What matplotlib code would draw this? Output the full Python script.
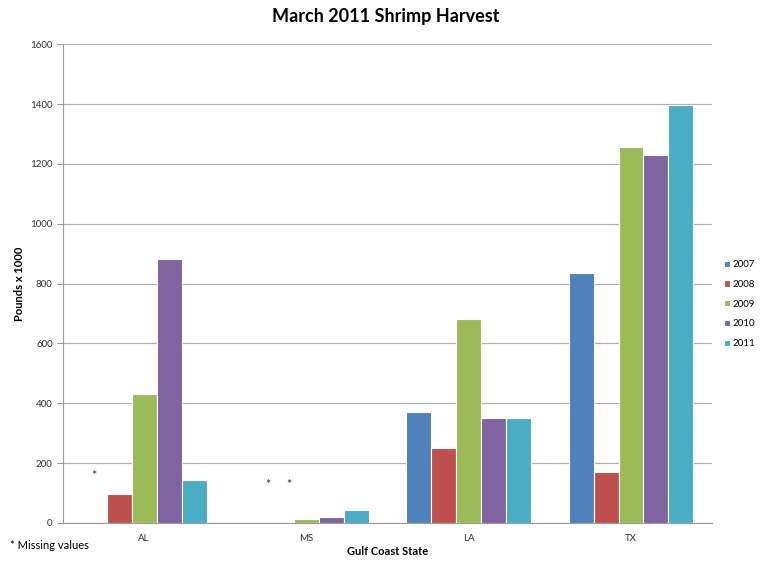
import numpy as np
import matplotlib.pyplot as plt

states = ["AL", "MS", "LA", "TX"]
years = ["2007", "2008", "2009", "2010", "2011"]
colors = ["#4f81bd", "#c0504d", "#9bbb59", "#8064a2", "#4bacc6"]

# pounds x 1000, None = missing value
harvest = {
    "2007": [None, None, 369, 836],
    "2008": [95, None, 249, 169],
    "2009": [430, 14, 682, 1256],
    "2010": [882, 20, 351, 1230],
    "2011": [142, 42, 352, 1398],
}

plt.rcParams['font.family'] = ['Lato', 'DejaVu Sans']

fig = plt.figure(figsize=(7.6, 5.61), dpi=100)
ax = fig.add_axes([0.083, 0.068, 0.854, 0.853])

x = np.arange(len(states))
width = 1 / 6.5
for i, yr in enumerate(years):
    vals = [v if v is not None else 0 for v in harvest[yr]]
    offs = (i - 2) * width
    ax.bar(x + offs, vals, width, color=colors[i], edgecolor="white",
           linewidth=0.8, label=yr, zorder=3)

# asterisks for missing values
ax.text(0 - 2 * width, 155, "*", ha="center", va="center", fontsize=9, color="#333333")
ax.text(1 - 1.55 * width, 125, "*", ha="center", va="center", fontsize=9, color="#333333")
ax.text(1 - 0.7 * width, 125, "*", ha="center", va="center", fontsize=9, color="#333333")

ax.set_xlim(-0.5, 3.5)
ax.set_ylim(0, 1600)
ax.set_yticks(range(0, 1601, 200))
ax.set_xticks(x)
ax.set_xticklabels(states)
ax.grid(axis="y", color="#b0b0b0", linewidth=0.9, zorder=0)
for s in ["top", "right"]:
    ax.spines[s].set_visible(False)
ax.spines["left"].set_color("#9a9a9a")
ax.spines["bottom"].set_color("#9a9a9a")
ax.tick_params(axis="y", labelsize=7, colors="#9a9a9a", labelcolor="#333333", length=4)
ax.tick_params(axis="x", labelsize=7, length=0, pad=8, labelcolor="#333333")

ax.set_ylabel("Pounds x 1000", fontsize=8, fontweight="bold", labelpad=4)
ax.set_xlabel("Gulf Coast State", fontsize=8, fontweight="bold", labelpad=2)
fig.suptitle("March 2011 Shrimp Harvest", x=0.507, y=0.985, fontsize=13, fontweight="bold")
fig.text(0.013, 0.028, "* Missing values", fontsize=8, va="center")

ax.legend(loc="center left", bbox_to_anchor=(1.005, 0.457), frameon=False,
          fontsize=7, handlelength=0.6, handleheight=0.6, handletextpad=0.3,
          labelspacing=1.1)

fig.savefig("out.png", dpi=100)
